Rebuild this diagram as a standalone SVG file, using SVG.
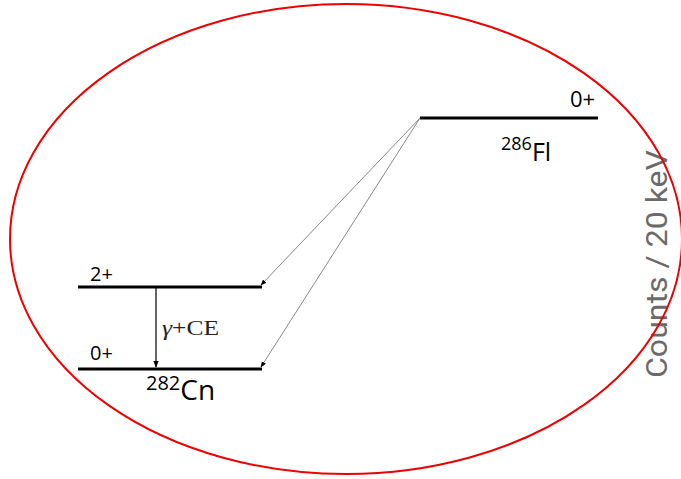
<svg xmlns="http://www.w3.org/2000/svg" width="681" height="479" viewBox="0 0 681 479">
<style>
.lvl{stroke:#000;stroke-width:3;fill:none}
.lbl{font-family:"Open Sans","Noto Sans",sans-serif;fill:#000}
.conn{stroke:#888;stroke-width:1;fill:none}
</style>
<defs>
<marker id="ah" viewBox="0 0 10 10" refX="9" refY="5" markerWidth="6" markerHeight="6" orient="auto"><path d="M0,1 L10,5 L0,9 z" fill="#000"/></marker>
</defs>
<rect width="681" height="479" fill="#fff"/>
<g id="axis-label"><text transform="translate(667,264) rotate(-90)" text-anchor="middle" font-family="Roboto,'Liberation Sans',sans-serif" font-size="29" fill="#6a6a6a" textLength="228" lengthAdjust="spacingAndGlyphs">Counts / 20 keV</text></g>
<g id="fl286">
<line class="lvl" x1="420" y1="118" x2="598" y2="118"/>
<text class="lbl" x="570" y="107" font-size="22">0+</text>
<text class="lbl" x="501" y="161" font-size="25"><tspan font-size="18" dy="-11">286</tspan><tspan dy="11">Fl</tspan></text>
</g>
<g id="cn282-2plus">
<line class="lvl" x1="78" y1="287" x2="262" y2="287"/>
<text class="lbl" x="90" y="281" font-size="20">2+</text>
</g>
<g id="cn282-0plus">
<line class="lvl" x1="78" y1="369" x2="262" y2="369"/>
<text class="lbl" x="90" y="360" font-size="20">0+</text>
<text class="lbl" x="146" y="400" font-size="28"><tspan font-size="20" dy="-10">282</tspan><tspan dy="10">Cn</tspan></text>
</g>
<g id="connectors">
<line x1="156" y1="288" x2="156" y2="367" stroke="#000" stroke-width="1.2" marker-end="url(#ah)"/>
<text x="162" y="335" font-family="'Liberation Serif',serif" font-size="20" fill="#222" textLength="57" lengthAdjust="spacingAndGlyphs"><tspan font-style="italic">γ</tspan>+CE</text>
<line class="conn" x1="420" y1="118" x2="261" y2="285" marker-end="url(#ah)"/>
<line class="conn" x1="420" y1="118" x2="261" y2="367" marker-end="url(#ah)"/>
</g>
<ellipse cx="346" cy="239" rx="336" ry="235" fill="none" stroke="#e00" stroke-width="2"/>
</svg>
